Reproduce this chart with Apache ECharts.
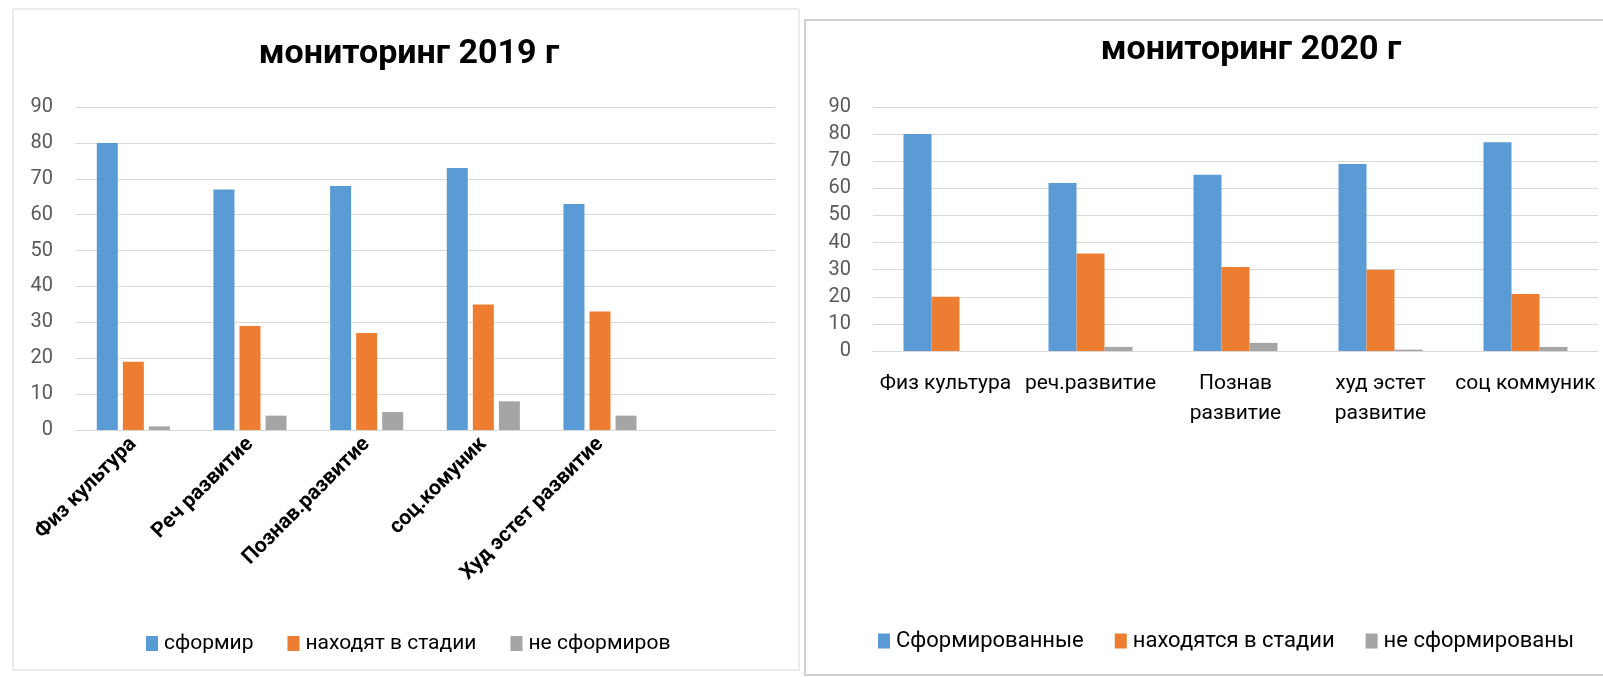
<!DOCTYPE html>
<html>
<head>
<meta charset="utf-8">
<script src="https://cdn.jsdelivr.net/npm/echarts@6/dist/echarts.min.js"></script>
<style>
  html, body { margin: 0; padding: 0; background: #ffffff; }
  #chart { width: 1603px; height: 677px; }
</style>
</head>
<body>
<div id="chart"></div>
<script>
// ---- data: monitoring 2019 ----
const title2019 = 'мониторинг 2019 г';
const categories2019 = ['Физ культура', 'Реч развитие', 'Познав.развитие', 'соц.комуник', 'Худ эстет развитие', ''];
const seriesNames2019 = ['сформир', 'находят в стадии', 'не сформиров'];
const formed2019 = [80, 67, 68, 73, 63, null];
const inStage2019 = [19, 29, 27, 35, 33, null];
const notFormed2019 = [1, 4, 5, 8, 4, null];

// ---- data: monitoring 2020 ----
const title2020 = 'мониторинг 2020 г';
const categories2020 = ['Физ культура', 'реч.развитие', 'Познав\nразвитие', 'худ эстет\nразвитие', 'соц коммуник'];
const seriesNames2020 = ['Сформированные', 'находятся в стадии', 'не сформированы'];
const formed2020 = [80, 62, 65, 69, 77];
const inStage2020 = [20, 36, 31, 30, 21];
const notFormed2020 = [0, 1.5, 3, 0.5, 1.5];

// ---- y-axis ticks ----
const yMin = 0, yMax = 90, yStep = 10;

const colors = ['#5B9BD5', '#ED7D31', '#A5A5A5'];
const FONT = 'Roboto, "Noto Sans", sans-serif';

const chart = echarts.init(document.getElementById('chart'), null, { renderer: 'canvas' });

function yAxis(gridIndex) {
  return {
    type: 'value', gridIndex, min: yMin, max: yMax, interval: yStep,
    axisLine: { show: false }, axisTick: { show: false },
    axisLabel: { color: '#595959', fontSize: 20, fontFamily: FONT, margin: 22 },
    splitLine: { lineStyle: { color: '#D9D9D9', width: 1 } }
  };
}

const option = {
  backgroundColor: '#ffffff',
  animation: false,
  color: colors,
  graphic: [
    { type: 'rect', shape: { x: 13, y: 9, width: 786, height: 661 },
      style: { fill: 'none', stroke: '#D9D9D9', lineWidth: 1 }, silent: true, z: -1 },
    { type: 'rect', shape: { x: 805, y: 20, width: 820, height: 655 },
      style: { fill: 'none', stroke: '#CFCFCF', lineWidth: 2 }, silent: true, z: -1 }
  ],
  title: [
    { text: title2019, left: 409, top: 54, padding: 0, textAlign: 'center', textVerticalAlign: 'middle',
      textStyle: { fontSize: 34, fontWeight: 'bold', color: '#000000', fontFamily: FONT } },
    { text: title2020, left: 1251, top: 50, padding: 0, textAlign: 'center', textVerticalAlign: 'middle',
      textStyle: { fontSize: 34, fontWeight: 'bold', color: '#000000', fontFamily: FONT } }
  ],
  legend: [
    { data: seriesNames2019, left: 146, top: 633, padding: 0, itemWidth: 12, itemHeight: 15, itemGap: 34,
      icon: 'rect', textStyle: { fontSize: 21, color: '#000000', fontFamily: FONT, padding: [0, 0, 0, 1] } },
    { data: seriesNames2020, left: 878, top: 630, padding: 0, itemWidth: 12, itemHeight: 15, itemGap: 31,
      icon: 'rect', textStyle: { fontSize: 22, color: '#000000', fontFamily: FONT, padding: [0, 0, 0, 1] } }
  ],
  grid: [
    { left: 75, right: 828, top: 107, bottom: 247, containLabel: false },
    { left: 873, right: 5, top: 107, bottom: 326, containLabel: false }
  ],
  xAxis: [
    { type: 'category', gridIndex: 0, data: categories2019,
      axisLine: { lineStyle: { color: '#D9D9D9' } }, axisTick: { show: false },
      axisLabel: { interval: 0, rotate: 45, margin: 11, color: '#000000', fontSize: 21,
        fontWeight: 'bold', fontFamily: FONT } },
    { type: 'category', gridIndex: 1, data: categories2020,
      axisLine: { lineStyle: { color: '#D9D9D9' } }, axisTick: { show: false },
      axisLabel: { interval: 0, margin: 18, color: '#000000', fontSize: 21, lineHeight: 30,
        fontFamily: FONT } }
  ],
  yAxis: [yAxis(0), yAxis(1)],
  series: [
    { name: seriesNames2019[0], type: 'bar', xAxisIndex: 0, yAxisIndex: 0, data: formed2019, barWidth: 21, barGap: '24%' },
    { name: seriesNames2019[1], type: 'bar', xAxisIndex: 0, yAxisIndex: 0, data: inStage2019, barWidth: 21, barGap: '24%' },
    { name: seriesNames2019[2], type: 'bar', xAxisIndex: 0, yAxisIndex: 0, data: notFormed2019, barWidth: 21, barGap: '24%' },
    { name: seriesNames2020[0], type: 'bar', xAxisIndex: 1, yAxisIndex: 1, data: formed2020, barWidth: 28, barGap: '0%' },
    { name: seriesNames2020[1], type: 'bar', xAxisIndex: 1, yAxisIndex: 1, data: inStage2020, barWidth: 28, barGap: '0%' },
    { name: seriesNames2020[2], type: 'bar', xAxisIndex: 1, yAxisIndex: 1, data: notFormed2020, barWidth: 28, barGap: '0%' }
  ]
};
chart.setOption(option);
</script>
</body>
</html>
